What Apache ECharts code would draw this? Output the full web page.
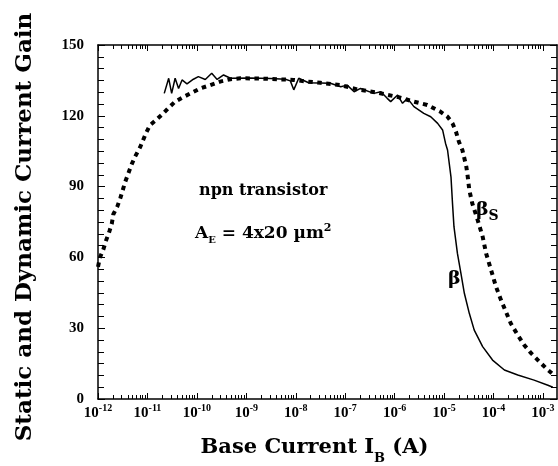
<!DOCTYPE html>
<html>
<head>
<meta charset="utf-8">
<script src="https://cdn.jsdelivr.net/npm/echarts@6/dist/echarts.min.js"></script>
<style>html,body{margin:0;padding:0;background:#fff}#main{width:558px;height:466px}</style>
</head>
<body>
<div id="main"></div>
<script>
// x values are log10 of the base current in A
var betaSX = [-12.00, -11.96, -11.89, -11.84, -11.77, -11.72, -11.69, -11.61, -11.55, -11.45, -11.32, -11.25, -11.15, -11.03, -10.95, -10.81, -10.68, -10.57, -10.44, -10.27, -10.10, -9.93, -9.73, -9.53, -9.32, -9.12, -8.72, -8.04, -7.77, -7.50, -7.09, -6.76, -6.35, -5.94, -5.61, -5.34, -5.07, -4.93, -4.83, -4.76, -4.70, -4.63, -4.59, -4.55, -4.52, -4.49, -4.43, -4.32, -4.22, -4.15, -4.05, -3.95, -3.85, -3.75, -3.65, -3.51, -3.38, -3.24, -3.07, -2.90, -2.82]
var betaSY = [56, 60, 63.5, 67, 71, 74.4, 78.3, 81.5, 85, 92, 99.4, 102.7, 106.6, 112.6, 116, 118.5, 121, 123.4, 126, 128, 129.8, 131.6, 133, 134.5, 135.5, 135.9, 135.8, 135.2, 134.5, 134, 133, 131.2, 129.8, 128, 126, 124.6, 121.7, 119.6, 116.8, 113.3, 109, 105.5, 102, 98.4, 94, 88.6, 82.9, 75.8, 68.8, 61.7, 54.7, 47.6, 42, 37, 32, 27.1, 22.9, 19.4, 15.8, 12.3, 10.9]
var betaX = [-10.66, -10.57, -10.51, -10.44, -10.37, -10.30, -10.20, -10.07, -9.97, -9.83, -9.70, -9.59, -9.46, -9.32, -8.92, -8.51, -8.21, -8.11, -8.04, -7.94, -7.74, -7.30, -7.09, -6.96, -6.82, -6.69, -6.42, -6.28, -6.15, -6.08, -5.94, -5.84, -5.74, -5.61, -5.41, -5.27, -5.13, -5.03, -4.97, -4.93, -4.86, -4.83, -4.80, -4.73, -4.66, -4.59, -4.49, -4.39, -4.22, -4.02, -3.78, -3.51, -3.18, -2.90, -2.80]
var betaY = [129.5, 135.9, 129.5, 135.9, 131.6, 135.2, 133.5, 135.5, 136.6, 135.4, 138, 135.4, 137.3, 135.9, 136, 135.8, 135.5, 134.8, 131, 135.9, 134, 133.8, 132.3, 133, 130.2, 131.6, 129.5, 130.2, 127.4, 126, 128.8, 125.3, 127.4, 123.9, 121, 119.6, 116.8, 114, 108.3, 105.5, 94, 83, 73, 61.7, 53.3, 44.8, 36.3, 29.2, 22.2, 16.5, 12.3, 10.2, 8, 5.8, 5]
var decades = [-12, -11, -10, -9, -8, -7, -6, -5, -4, -3]
var xMin = -12, xMax = -2.716

// minor ticks at 2..9 of each decade
var minorTicks = []
for (var n = -12; n < -2; n++) {
  for (var k = 2; k <= 9; k++) {
    var v = n + Math.log10(k)
    if (v < xMax) minorTicks.push(v)
  }
}

var serif = 'DejaVu Serif'
var times = 'Liberation Serif'
var black = '#000'

function xAxisDef(pos, major) {
  return {
    type: 'value', position: pos, min: xMin, max: xMax,
    axisLine: { show: major, lineStyle: { color: black, width: 1.5 } },
    splitLine: { show: false },
    axisTick: { show: true, inside: true, length: major ? 6 : 4,
      customValues: major ? decades : minorTicks,
      lineStyle: { color: black, width: 1 } },
    axisLabel: {
      show: major && pos === 'bottom', margin: 4,
      customValues: decades,
      formatter: function (v) { return '{b|10}{s|' + v + '}' },
      rich: {
        b: { fontFamily: times, fontWeight: 'bold', fontSize: 15, color: black, lineHeight: 18, verticalAlign: 'bottom' },
        s: { fontFamily: times, fontWeight: 'bold', fontSize: 10, color: black, lineHeight: 10, verticalAlign: 'top' }
      }
    }
  }
}

function yAxisDef(pos) {
  return {
    type: 'value', position: pos, min: 0, max: 150, interval: 30,
    axisLine: { show: true, lineStyle: { color: black, width: 1.5 } },
    splitLine: { show: false },
    axisTick: { show: true, inside: true, length: 7, lineStyle: { color: black } },
    minorTick: { show: true, splitNumber: 6, length: 6, lineStyle: { color: black } },
    axisLabel: { show: pos === 'left', margin: 14, color: black,
      fontFamily: times, fontWeight: 'bold', fontSize: 15 }
  }
}

var myChart = echarts.init(document.getElementById('main'))
var xBottom = xAxisDef('bottom', true)
xBottom.name = '{t|Base Current I}{sub|B}{t| (A)}'
xBottom.nameLocation = 'middle'
xBottom.nameGap = 38
xBottom.nameTextStyle = {
  padding: [0, 26, 0, 0],
  rich: {
    t: { fontFamily: serif, fontWeight: 'bold', fontSize: 21, color: black, lineHeight: 28, verticalAlign: 'top' },
    sub: { fontFamily: serif, fontWeight: 'bold', fontSize: 13, color: black, lineHeight: 14, verticalAlign: 'bottom' }
  }
}
var yLeft = yAxisDef('left')
yLeft.name = 'Static and Dynamic Current Gain'
yLeft.nameLocation = 'middle'
yLeft.nameGap = 61
yLeft.nameTextStyle = { fontFamily: serif, fontWeight: 'bold', fontSize: 23, color: black, padding: [0, 10, 0, 0] }

var option = {
  backgroundColor: '#fff',
  animation: false,
  grid: { left: 98, right: 1, top: 45, bottom: 67, outerBoundsMode: 'none', containLabel: false },
  xAxis: [xBottom, xAxisDef('bottom', false), xAxisDef('top', true), xAxisDef('top', false)],
  yAxis: [yLeft, yAxisDef('right')],
  series: [
    {
      name: 'βS', type: 'line', xAxisIndex: 0, yAxisIndex: 0, symbol: 'none',
      data: betaSX.map(function (x, i) { return [x, betaSY[i]] }),
      lineStyle: { color: black, width: 4, type: [4.5, 4.5], cap: 'butt' }
    },
    {
      name: 'β', type: 'line', xAxisIndex: 0, yAxisIndex: 0, symbol: 'none',
      data: betaX.map(function (x, i) { return [x, betaY[i]] }),
      lineStyle: { color: black, width: 1.5 }
    }
  ],
  graphic: [
    { type: 'text', left: 199, top: 183, style: { text: 'npn transistor',
      font: 'bold 16px "DejaVu Serif"', fill: black } },
    { type: 'text', left: 195, top: 223, style: {
      text: '{a|A}{sub|E}{a| = 4x20 µm}{sup|2}',
      rich: {
        a: { fontFamily: serif, fontWeight: 'bold', fontSize: 17, fill: black, lineHeight: 22, verticalAlign: 'middle' },
        sub: { fontFamily: serif, fontWeight: 'bold', fontSize: 10, fill: black, lineHeight: 10, verticalAlign: 'bottom' },
        sup: { fontFamily: serif, fontWeight: 'bold', fontSize: 11, fill: black, lineHeight: 11, verticalAlign: 'top' }
      } } },
    { type: 'text', left: 476, top: 201, style: {
      text: '{a|β}{sub|S}',
      rich: {
        a: { fontFamily: serif, fontWeight: 'bold', fontSize: 19, fill: black, lineHeight: 22, verticalAlign: 'top' },
        sub: { fontFamily: serif, fontWeight: 'bold', fontSize: 14, fill: black, lineHeight: 14, verticalAlign: 'bottom' }
      } } },
    { type: 'text', left: 448, top: 270, style: { text: 'β',
      font: 'bold 19px "DejaVu Serif"', fill: black } }
  ]
}

myChart.setOption(option)
</script>
</body>
</html>
